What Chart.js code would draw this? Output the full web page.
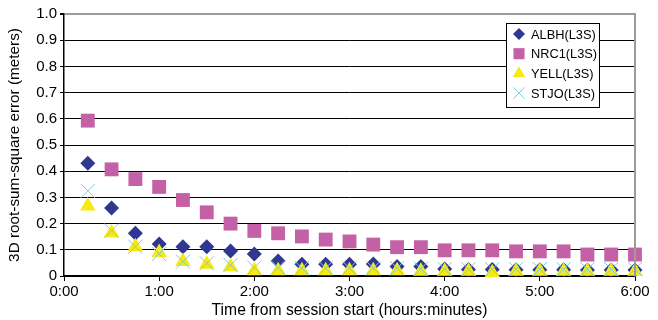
<!DOCTYPE html>
<html>
<head>
<meta charset="utf-8">
<script src="https://cdn.jsdelivr.net/npm/chart.js@4.4.1/dist/chart.umd.min.js"></script>
<style>
  html, body { margin: 0; padding: 0; background: #fff; }
  #wrap { width: 658px; height: 320px; }
</style>
</head>
<body>
<div id="wrap"><canvas id="chart"></canvas></div>
<script>
// minutes from session start
const minutes = [15, 30, 45, 60, 75, 90, 105, 120, 135, 150, 165, 180,
                 195, 210, 225, 240, 255, 270, 285, 300, 315, 330, 345, 360];
const albh = [0.43, 0.26, 0.163, 0.122, 0.112, 0.112, 0.095, 0.084, 0.057, 0.045, 0.045, 0.045,
              0.046, 0.036, 0.036, 0.027, 0.025, 0.025, 0.024, 0.024, 0.024, 0.023, 0.023, 0.023];
const nrc1 = [0.593, 0.407, 0.37, 0.34, 0.29, 0.243, 0.2, 0.172, 0.163, 0.151, 0.139, 0.132,
              0.12, 0.11, 0.11, 0.098, 0.098, 0.098, 0.094, 0.094, 0.094, 0.082, 0.082, 0.082];
const yell = [0.267, 0.164, 0.112, 0.09, 0.055, 0.045, 0.035, 0.02, 0.02, 0.02, 0.02, 0.02,
              0.02, 0.02, 0.018, 0.018, 0.018, 0.012, 0.018, 0.018, 0.018, 0.018, 0.018, 0.018];
const stjo = [0.325, 0.173, 0.112, 0.084, 0.055, 0.048, 0.042, 0.032, 0.032, 0.03, 0.03, 0.03,
              0.03, 0.03, 0.028, 0.026, 0.026, 0.026, 0.026, 0.026, 0.026, 0.026, 0.026, 0.026];
const seriesNames = ['ALBH(L3S)', 'NRC1(L3S)', 'YELL(L3S)', 'STJO(L3S)'];

const FONT = '"Liberation Sans", Arial, Helvetica, sans-serif';

function pts(values) {
  return values.map((v, i) => ({ x: minutes[i], y: v }));
}

// legend box inside the plot, plus grey right border
const boxLegend = {
  id: 'boxLegend',
  afterDraw(chart) {
    const ctx = chart.ctx;
    const a = chart.chartArea;
    ctx.save();
    ctx.strokeStyle = '#9c9c9c';
    ctx.lineWidth = 2;
    ctx.beginPath();
    ctx.moveTo(a.right, a.top - 1);
    ctx.lineTo(a.right, a.bottom);
    ctx.stroke();

    const x = 506, y = 23, w = 93, h = 84;
    ctx.fillStyle = '#fff';
    ctx.fillRect(x, y, w, h);
    ctx.strokeStyle = '#000';
    ctx.lineWidth = 1;
    ctx.strokeRect(x + 0.5, y + 0.5, w, h);

    chart.data.datasets.forEach((ds, i) => {
      const cy = 34 + i * 19.7;
      ctx.fillStyle = ds.backgroundColor;
      ctx.strokeStyle = ds.borderColor;
      ctx.lineWidth = ds.borderWidth || 1;
      Chart.helpers.drawPoint(ctx, {
        pointStyle: ds.pointStyle,
        radius: ds.pointRadius * 0.8,
        borderWidth: ds.borderWidth,
        rotation: 0
      }, 519, cy);
      ctx.fillStyle = '#000';
      ctx.font = '12.8px ' + FONT;
      ctx.textBaseline = 'middle';
      ctx.textAlign = 'left';
      ctx.fillText(ds.label, 531, cy + 1);
    });
    ctx.restore();
  }
};

new Chart(document.getElementById('chart'), {
  type: 'scatter',
  data: {
    datasets: [
      { label: seriesNames[0], data: pts(albh), pointStyle: 'rectRot', pointRadius: 7.5,
        backgroundColor: '#2f3791', borderColor: '#2f3791', borderWidth: 0, order: 3 },
      { label: seriesNames[1], data: pts(nrc1), pointStyle: 'rect', pointRadius: 9.8,
        backgroundColor: '#c461a6', borderColor: '#c461a6', borderWidth: 0, order: 2 },
      { label: seriesNames[2], data: pts(yell), pointStyle: 'triangle', pointRadius: 9,
        backgroundColor: '#f6e916', borderColor: '#f6e916', borderWidth: 0, order: 1 },
      { label: seriesNames[3], data: pts(stjo), pointStyle: 'crossRot', pointRadius: 10,
        backgroundColor: '#72d0e4', borderColor: '#72d0e4', borderWidth: 1, order: 0 }
    ]
  },
  options: {
    responsive: true,
    maintainAspectRatio: false,
    animation: false,
    clip: false,
    layout: { padding: { left: 0, right: 23, top: 14, bottom: 0 } },
    plugins: {
      legend: { display: false },
      tooltip: { enabled: false }
    },
    elements: { point: { hoverRadius: 0 } },
    scales: {
      x: {
        type: 'linear',
        min: 0,
        max: 360,
        afterFit: s => { s.height = 44; },
        ticks: {
          stepSize: 60,
          color: '#000',
          padding: 2,
          font: { family: FONT, size: 15 },
          maxRotation: 0,
          callback: v => Math.floor(v / 60) + ':' + String(v % 60).padStart(2, '0')
        },
        grid: { drawOnChartArea: false, drawTicks: true, tickLength: 5, tickColor: '#000' },
        border: { display: true, color: '#000', width: 1.5 },
        title: {
          display: true,
          text: 'Time from session start (hours:minutes)',
          color: '#000',
          font: { family: FONT, size: 15.7 },
          padding: { top: 0, bottom: 0 }
        }
      },
      y: {
        min: 0,
        max: 1,
        afterFit: s => { s.width = 64; },
        ticks: {
          stepSize: 0.1,
          color: '#000',
          padding: 3,
          font: { family: FONT, size: 15 },
          callback: v => v === 0 ? '0' : v.toFixed(1)
        },
        grid: {
          color: c => (c.tick && c.tick.value === 1) ? '#9c9c9c' : '#000',
          lineWidth: c => (c.tick && c.tick.value === 1) ? 2 : 1,
          tickColor: '#000',
          tickLength: 4
        },
        border: { display: true, color: '#000', width: 1.5 },
        title: {
          display: true,
          text: '3D root-sum-square error (meters)',
          color: '#000',
          font: { family: FONT, size: 15.3 },
          padding: { top: 6, bottom: 0 }
        }
      }
    }
  },
  plugins: [boxLegend]
});
</script>
</body>
</html>
